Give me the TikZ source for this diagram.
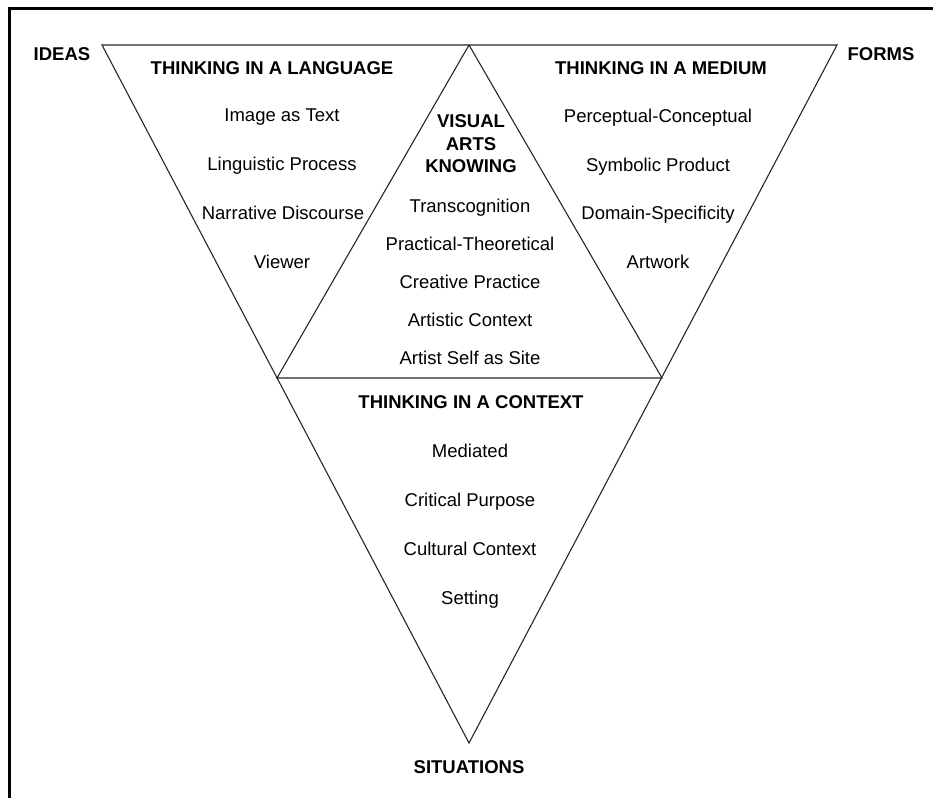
\documentclass[tikz,border=0pt]{standalone}
\usepackage{fontspec}
\setmainfont{Liberation Sans}
\begin{document}
\begin{tikzpicture}[x=1pt,y=-1pt,
  edge/.style={draw=black!85,line width=1.1pt},
  frame/.style={draw=black,line width=3pt},
  head/.style={anchor=base,inner sep=0pt,font=\fontsize{18.5}{20}\selectfont\bfseries},
  item/.style={anchor=base,inner sep=0pt,font=\fontsize{18.5}{20}\selectfont}]
\useasboundingbox (0,0) rectangle (933,798);
% frame (top and left edges)
\coordinate (ftr) at (933,8);
\coordinate (ftl) at (9,8);
\coordinate (fbl) at (9,798);
\draw[frame] (ftr) -- (ftl) -- (fbl);
% triangle vertices
\coordinate (A) at (102,45);
\coordinate (B) at (837,45);
\coordinate (C) at (469,743);
\coordinate (AB) at (469,45);
\coordinate (AC) at (277,378);
\coordinate (BC) at (662,378);
\draw[edge,line join=miter] (A) -- (B) -- (C) -- cycle;
\draw[edge] (AC) -- (AB) -- (BC) -- cycle;
% corner labels
\node[head] (ideas) at (62,60) {IDEAS};
\node[head] (forms) at (881,60) {FORMS};
\node[head] (situ) at (469,773) {SITUATIONS};
% left triangle
\node[head] (hL) at (272,74) {THINKING IN A LANGUAGE};
\node[item] (l1) at (282,121) {Image as Text};
\node[item] (l2) at (282,170) {Linguistic Process};
\node[item] (l3) at (283,219) {Narrative Discourse};
\node[item] (l4) at (282,268) {Viewer};
% right triangle
\node[head] (hR) at (661,74) {THINKING IN A MEDIUM};
\node[item] (r1) at (658,122) {Perceptual-Conceptual};
\node[item] (r2) at (658,171) {Symbolic Product};
\node[item] (r3) at (658,219) {Domain-Specificity};
\node[item] (r4) at (658,268) {Artwork};
% middle triangle
\node[head] (m0a) at (471,127) {VISUAL};
\node[head] (m0b) at (471,150) {ARTS};
\node[head] (m0c) at (471,172) {KNOWING};
\node[item] (m1) at (470,212) {Transcognition};
\node[item] (m2) at (470,250) {Practical-Theoretical};
\node[item] (m3) at (470,288) {Creative Practice};
\node[item] (m4) at (470,326) {Artistic Context};
\node[item] (m5) at (470,364) {Artist Self as Site};
% bottom triangle
\node[head] (hB) at (471,408) {THINKING IN A CONTEXT};
\node[item] (b1) at (470,457) {Mediated};
\node[item] (b2) at (470,506) {Critical Purpose};
\node[item] (b3) at (470,555) {Cultural Context};
\node[item] (b4) at (470,604) {Setting};
\end{tikzpicture}
\end{document}
